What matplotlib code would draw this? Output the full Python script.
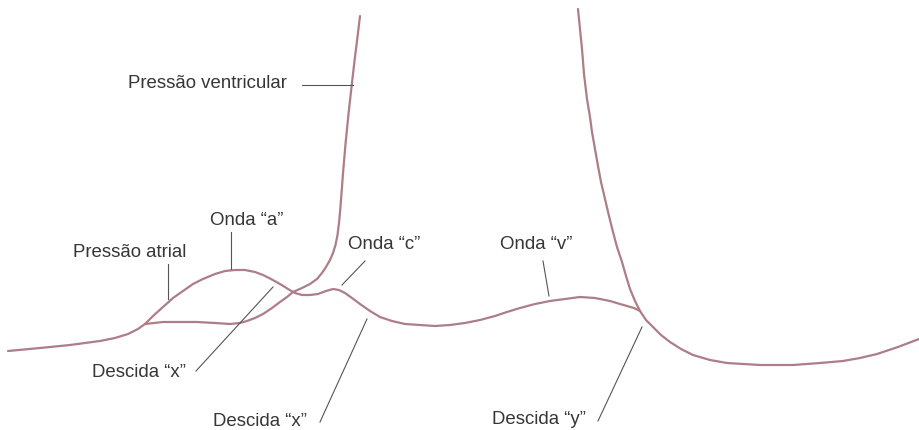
"""Curvas de pressão atrial e ventricular com ondas a, c, v e descidas x, y."""

import matplotlib.pyplot as plt

plt.rcParams["font.family"] = ["Liberation Sans", "DejaVu Sans"]

# Curvas em coordenadas de página (x para a direita, y para baixo)
atrial_x = [8, 40, 70, 100, 115, 128, 138, 145, 153, 163, 173, 183, 193, 203,
            215, 225, 235, 245, 255, 263, 271, 280, 288, 295, 302, 310, 318,
            326, 333, 339, 345, 352, 360, 370, 380, 392, 405, 420, 435, 450,
            465, 480, 495, 507, 520, 535, 550, 565, 580, 595, 610, 620, 627,
            634, 640]
atrial_y = [352, 349, 346, 342, 339, 335, 330, 325, 317, 308, 299, 292, 285,
            280, 275, 272, 271, 271, 273, 276, 280, 285, 290, 294, 296, 296,
            295, 292, 290, 291, 294, 299, 305, 312, 318, 322, 325, 326, 327,
            326, 324, 321, 317, 313, 309, 305, 302, 300, 298, 299, 302, 305,
            307, 309, 312]

vent_left_x = [145, 163, 180, 197, 215, 230, 240, 247, 255, 263, 272, 280,
               287, 293, 302, 310, 317, 322, 326, 330, 333, 335.5, 337.5,
               339, 340.3, 341.6, 343.2, 345.5, 348.5, 351.5, 354.5, 357.5,
               360]
vent_left_y = [325, 323, 323, 323, 324, 325, 324, 322, 319, 315, 309, 303,
               298, 293, 289, 285, 280, 274, 268, 261, 254, 246, 236, 224,
               210, 193, 172, 145, 115, 88, 62, 38, 17]

vent_right_x = [578, 580, 582, 584, 587, 590, 592, 595, 598, 601, 605, 609,
                613, 617, 622, 626, 630, 635, 640, 646, 653, 661, 670, 681,
                693, 710, 727, 760, 793, 820, 843, 860, 877, 898, 919]
vent_right_y = [10, 30, 50, 75, 100, 118, 133, 150, 167, 183, 200, 217, 233,
                248, 263, 277, 290, 302, 312, 321, 328, 336, 343, 350, 356,
                361, 364, 366, 366, 364, 362, 359, 355, 348, 340]

# Rótulos: texto, posição do texto, início e fim da linha indicadora
labels = ["Pressão ventricular", "Onda “a”", "Pressão atrial", "Onda “c”",
          "Onda “v”", "Descida “x”", "Descida “x”", "Descida “y”"]
label_x = [128, 210, 73, 348, 500, 92, 213, 492]
label_y = [83, 221, 253, 245, 245, 373, 422, 420]
leader_start = [(302, 86), (231, 233), (168, 265), (365, 262), (543, 262),
                (196, 372), (320, 423), (598, 422)]
leader_end = [(353, 86), (231, 270), (168, 300), (342, 286), (549, 297),
              (273, 288), (367, 320), (642, 328)]

curve_color = "#ad7d88"
text_color = "#363636"

fig = plt.figure(figsize=(9.19, 4.31), dpi=100)
ax = fig.add_axes([0, 0, 1, 1])
ax.set_xlim(0, 919)
ax.set_ylim(431, 0)
ax.axis("off")

for xs, ys in [(atrial_x, atrial_y), (vent_left_x, vent_left_y),
               (vent_right_x, vent_right_y)]:
    ax.plot(xs, ys, color=curve_color, lw=1.6, solid_capstyle="round",
            solid_joinstyle="round")

for text, tx, ty, p0, p1 in zip(labels, label_x, label_y, leader_start, leader_end):
    ax.text(tx, ty, text, ha="left", va="center", fontsize=13.4, color=text_color)
    ax.plot([p0[0], p1[0]], [p0[1], p1[1]], color="#555555", lw=0.8)

fig.savefig("out.png", dpi=100)
plt.close(fig)
